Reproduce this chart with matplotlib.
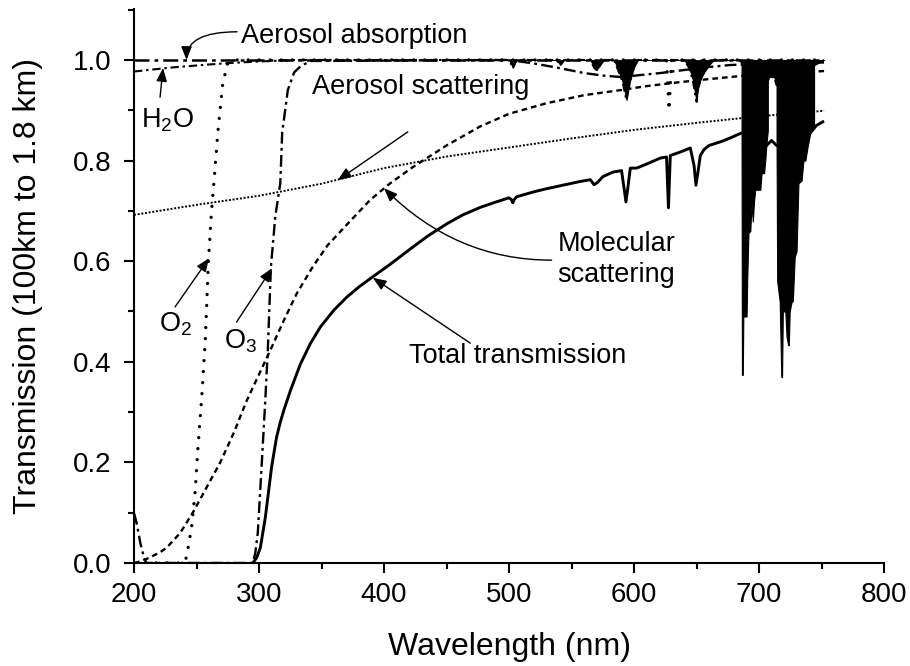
import matplotlib
matplotlib.use("Agg")
import matplotlib.pyplot as plt
from matplotlib.ticker import MultipleLocator

plt.rcParams['font.family'] = ['Liberation Sans', 'DejaVu Sans']
plt.rcParams['mathtext.fontset'] = 'custom'
plt.rcParams['mathtext.rm'] = 'Liberation Sans'

# --- data (wavelength in nm, transmission) ---
aer_abs_wl = [200, 752]
aer_abs_tr = [0.999, 0.999]

h2o_wl = [200, 230, 260, 277, 300, 330, 500, 502, 503, 504, 506, 538, 540, 541, 542, 544,
          565, 568, 570, 573, 576, 584, 588, 591, 593, 594, 595, 597, 600, 603,
          640, 644, 647, 649, 650, 651, 653, 656, 660, 664, 684, 706, 708, 712, 714, 752]
h2o_tr = [0.977, 0.985, 0.991, 0.994, 0.997, 1.0, 1.0, 0.99, 0.984, 0.99, 1.0, 1.0, 0.993, 0.99, 0.993, 1.0,
          1.0, 0.985, 0.98, 0.99, 1.0, 1.0, 0.975, 0.955, 0.93, 0.92, 0.935, 0.96, 0.985, 1.0,
          1.0, 0.985, 0.96, 0.93, 0.917, 0.94, 0.96, 0.975, 0.99, 1.0, 1.0, 0.95, 0.966, 0.966, 0.95, 1.0]

aer_sc_wl = [200, 250, 300, 350, 400, 450, 500, 550, 600, 650, 700, 752]
aer_sc_tr = [0.692, 0.712, 0.730, 0.754, 0.785, 0.808, 0.826, 0.844, 0.861, 0.875, 0.888, 0.899]

mol_wl = [200, 205, 210, 220, 226, 237, 247, 258, 269, 280, 290, 300, 309, 320, 330,
          343, 355, 370, 389, 405, 423, 450, 477, 500, 530, 560, 589, 610, 637, 660,
          685, 720, 752]
mol_tr = [0.0, 0.003, 0.008, 0.02, 0.03, 0.06, 0.10, 0.15, 0.20, 0.26, 0.322, 0.375,
          0.423, 0.483, 0.535, 0.589, 0.632, 0.672, 0.722, 0.755, 0.787, 0.83, 0.868,
          0.893, 0.914, 0.93, 0.94, 0.948, 0.956, 0.962, 0.968, 0.973, 0.978]

o2_wl = [200, 240, 242, 246, 249, 251, 254, 257, 259.5, 262, 264, 267, 271, 275, 280,
         626, 627, 628, 629, 630, 752]
o2_tr = [0.0, 0.0, 0.012, 0.07, 0.145, 0.225, 0.324, 0.443, 0.6, 0.7, 0.76, 0.855,
         0.954, 0.994, 1.0, 1.0, 0.95, 0.90, 0.95, 1.0, 1.0]

o3_wl = [200, 202, 205, 208, 210, 295, 297, 299, 302, 305, 307, 309.5, 313, 317, 318.5,
         323, 328, 333, 341, 500, 520, 540, 560, 575, 590, 605, 621, 640, 660, 677,
         700, 730, 752]
o3_tr = [0.099, 0.08, 0.04, 0.01, 0.0, 0.0, 0.02, 0.06, 0.19, 0.324, 0.423, 0.589,
         0.689, 0.755, 0.855, 0.94, 0.975, 0.987, 0.998, 1.0, 0.993, 0.984, 0.974,
         0.969, 0.966, 0.97, 0.974, 0.98, 0.986, 0.99, 0.992, 0.994, 0.995]

tot_wl = [295, 298, 301, 305, 310, 314, 317, 320, 325, 333, 341, 349, 360, 370, 380, 391,
          405, 423, 435, 450, 463, 477, 490, 500, 502, 503, 504, 506, 520, 530, 543, 556,
          565, 568, 571, 575, 583, 590, 592, 593.5, 595, 597, 602, 610, 621, 626, 627.5,
          629, 637, 645, 648, 649.5, 651, 653, 656, 660, 670, 677, 686, 706, 710, 714,
          741, 746, 751]
tot_tr = [0.0, 0.01, 0.03, 0.09, 0.19, 0.25, 0.28, 0.305, 0.342, 0.395, 0.436, 0.469, 0.503,
          0.528, 0.549, 0.569, 0.594, 0.628, 0.650, 0.674, 0.692, 0.707, 0.718, 0.726,
          0.722, 0.716, 0.722, 0.728, 0.738, 0.744, 0.751, 0.758, 0.762, 0.752, 0.757,
          0.768, 0.777, 0.78, 0.745, 0.718, 0.745, 0.785, 0.785, 0.793, 0.805, 0.807,
          0.706, 0.81, 0.817, 0.825, 0.79, 0.751, 0.775, 0.81, 0.822, 0.83, 0.838, 0.845,
          0.855, 0.83, 0.84, 0.83, 0.855, 0.87, 0.877]

# dense O2 / H2O absorption bands (lower envelope)
band_a_wl = [686.0, 686.3, 687.0, 687.4, 690.0, 690.5, 691.5, 693.0, 694.0, 695.0,
             696.0, 697.0, 701.0, 702.0, 704.0, 705.0, 706.0, 707.0]
band_a_lo = [0.86, 0.374, 0.374, 0.49, 0.49, 0.56, 0.656, 0.66, 0.715, 0.679,
             0.72, 0.742, 0.742, 0.775, 0.775, 0.801, 0.835, 0.86]
band_b_wl = [714.0, 714.5, 716.5, 717.8, 718.4, 719.0, 721.0, 722.0, 723.3, 723.8,
             724.5, 726.0, 727.0, 728.5, 730.0, 731.5, 734.0, 735.5, 737.0, 739.0,
             741.0, 744.0]
band_b_lo = [0.835, 0.56, 0.52, 0.37, 0.37, 0.5, 0.5, 0.45, 0.433, 0.433,
             0.5, 0.519, 0.52, 0.608, 0.62, 0.755, 0.76, 0.8, 0.8, 0.83,
             0.855, 0.87]

fig = plt.figure(figsize=(9.1, 6.66), dpi=100)
ax = fig.add_axes([0.1473, 0.1547, 0.8242, 0.8323])

k = dict(color='black')
ax.plot(aer_abs_wl, aer_abs_tr, lw=1.8, ls=(0, (6, 2, 1.5, 2)), **k)
ax.plot(h2o_wl, h2o_tr, lw=1.5, ls=(0, (4, 1.8, 1.2, 1.8)), **k)
ax.fill_between(h2o_wl, h2o_tr, 1.0, where=[w > 450 for w in h2o_wl], color='black', lw=0.6)
ax.plot(aer_sc_wl, aer_sc_tr, lw=1.4, ls=(0, (1, 0.9)), **k)
ax.plot(mol_wl, mol_tr, lw=1.7, ls=(0, (2.4, 1.7)), **k)
ax.plot(o2_wl, o2_tr, lw=2.4, ls=(0, (0.01, 3.3)), dash_capstyle='round', **k)
ax.plot(o3_wl, o3_tr, lw=1.7, ls=(0, (5, 1.8, 1.2, 1.8)), **k)
ax.plot(tot_wl, tot_tr, lw=2.1, solid_joinstyle='round', **k)
ax.fill_between(band_a_wl, band_a_lo, 1.0, color='black', lw=0.8, edgecolor='black')
ax.fill_between(band_b_wl, band_b_lo, 1.0, color='black', lw=0.8, edgecolor='black')

fs = 19.5
ax.text(285.6, 1.034, 'Aerosol absorption', fontsize=fs)
ax.text(205.6, 0.865, r'H$_\mathregular{2}$O', fontsize=fs)
ax.text(342, 0.932, 'Aerosol scattering', fontsize=fs)
ax.text(538.6, 0.559, 'Molecular\nscattering', fontsize=fs, va='baseline', linespacing=1.25)
ax.text(220, 0.46, r'O$_\mathregular{2}$', fontsize=fs)
ax.text(272, 0.427, r'O$_\mathregular{3}$', fontsize=fs)
ax.text(420, 0.397, 'Total transmission', fontsize=fs)

arw = dict(arrowstyle='-|>,head_length=0.45,head_width=0.18', color='black', lw=1.0,
           shrinkA=0, shrinkB=0, mutation_scale=18)
ax.annotate('', xy=(242, 1.0), xytext=(282.4, 1.056),
            arrowprops=dict(connectionstyle='angle3,angleA=0,angleB=90', **arw))
ax.annotate('', xy=(223.2, 0.984), xytext=(220.8, 0.926), arrowprops=arw)
ax.annotate('', xy=(363, 0.761), xytext=(419, 0.857), arrowprops=arw)
ax.annotate('', xy=(400, 0.745), xytext=(534, 0.602),
            arrowprops=dict(connectionstyle='angle3,angleA=0,angleB=135', **arw))
ax.annotate('', xy=(260, 0.606), xytext=(232.8, 0.509), arrowprops=arw)
ax.annotate('', xy=(310.4, 0.586), xytext=(282, 0.479), arrowprops=arw)
ax.annotate('', xy=(391, 0.567), xytext=(469, 0.437), arrowprops=arw)

ax.set_xlim(200, 800)
ax.set_ylim(0, 1.102)
ax.xaxis.set_major_locator(MultipleLocator(100))
ax.xaxis.set_minor_locator(MultipleLocator(50))
ax.yaxis.set_major_locator(MultipleLocator(0.2))
ax.yaxis.set_minor_locator(MultipleLocator(0.1))
ax.yaxis.set_major_formatter(plt.FuncFormatter(lambda v, p: f'{v:.1f}'))
ax.tick_params(which='major', direction='out', length=7, width=1.5, labelsize=20)
ax.tick_params(axis='x', which='major', pad=7)
ax.tick_params(axis='y', which='major', pad=9)
ax.tick_params(which='minor', direction='out', length=4, width=1.5)
for s in ['top', 'right']:
    ax.spines[s].set_visible(False)
for s in ['left', 'bottom']:
    ax.spines[s].set_linewidth(1.5)
ax.set_xlabel('Wavelength (nm)', fontsize=23, labelpad=17)
ax.set_ylabel('Transmission (100km to 1.8 km)', fontsize=23, labelpad=22)

fig.savefig('out.png', dpi=100)
